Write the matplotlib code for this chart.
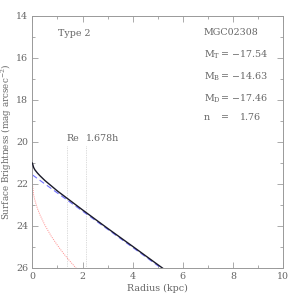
import matplotlib
matplotlib.use("Agg")
from matplotlib import pyplot as plt
from matplotlib.ticker import MultipleLocator

plt.rcParams['font.family'] = 'DejaVu Serif'
plt.rcParams['mathtext.fontset'] = 'dejavuserif'

# profile data
radius = [0.0, 0.05, 0.1, 0.2, 0.3, 0.5, 0.75, 1.0, 1.5, 2.0, 3.0, 4.0, 5.0, 5.3]
total_mu = [21.02, 21.23, 21.34, 21.49, 21.62, 21.85, 22.10, 22.35, 22.80, 23.25, 24.13, 24.99, 25.86, 26.12]

disk_r = [0.0, 2.0, 4.0, 5.3]
disk_mu = [21.58, 23.31, 25.04, 26.17]

bulge_r = [0.0, 0.05, 0.1, 0.2, 0.3, 0.5, 0.75, 1.0, 1.25, 1.5, 1.65, 1.75]
bulge_mu = [22.0, 22.54, 22.79, 23.18, 23.48, 23.98, 24.50, 24.94, 25.34, 25.70, 25.90, 26.04]

re_kpc = 1.36
h_mark = 2.13

galaxy = "MGC02308"
mag_labels = ["M$_{\\mathrm{T}}$", "M$_{\\mathrm{B}}$", "M$_{\\mathrm{D}}$"]
mag_values = ["\u221217.54", "\u221214.63", "\u221217.46"]
sersic_n = "1.76"

grey = '#666666'
fs = 6.8

fig = plt.figure(figsize=(3, 3), dpi=100)
ax = fig.add_axes([0.108, 0.108, 0.836, 0.839])

ax.plot(radius, total_mu, color='#1a1a2a', lw=1.0, zorder=3)
ax.plot(disk_r, disk_mu, color='#7070ff', lw=0.8, ls=(0, (5, 3)), zorder=2)
ax.plot(bulge_r, bulge_mu, color='#ff8a8a', lw=0.7, ls=(0, (1, 1.2)), zorder=2)

for xv in [re_kpc, h_mark]:
    ax.plot([xv, xv], [20.2, 26], color='#bbbbbb', lw=0.5, ls=(0, (1, 1.5)), zorder=1)

ax.text(re_kpc, 19.85, "Re", fontsize=fs, color=grey, ha='left', va='center')
ax.text(h_mark, 19.85, "1.678h", fontsize=fs, color=grey, ha='left', va='center')
ax.text(1.03, 14.86, "Type 2", fontsize=fs, color=grey, ha='left', va='center')

ax.text(6.84, 14.78, galaxy, fontsize=fs, color=grey, ha='left', va='center')
ys = [15.86, 16.91, 17.96]
for lab, val, yv in zip(mag_labels, mag_values, ys):
    ax.text(6.84, yv, lab, fontsize=fs, color=grey, ha='left', va='center')
    ax.text(7.52, yv, "=", fontsize=fs, color=grey, ha='left', va='center')
    ax.text(9.35, yv, val, fontsize=fs, color=grey, ha='right', va='center')
ax.text(6.84, 18.83, "n", fontsize=fs, color=grey, ha='left', va='center')
ax.text(7.52, 18.83, "=", fontsize=fs, color=grey, ha='left', va='center')
ax.text(9.1, 18.83, sersic_n, fontsize=fs, color=grey, ha='right', va='center')

ax.set_xlim(0, 10)
ax.set_ylim(26, 14)
ax.xaxis.set_major_locator(MultipleLocator(2))
ax.xaxis.set_minor_locator(MultipleLocator(1))
ax.yaxis.set_major_locator(MultipleLocator(2))
ax.yaxis.set_minor_locator(MultipleLocator(1))
ax.tick_params(which='both', direction='in', top=True, right=True,
               colors='#888888', labelcolor=grey, labelsize=fs, width=0.5)
ax.tick_params(which='major', length=4, pad=3)
ax.tick_params(which='minor', length=2)
for sp in ax.spines.values():
    sp.set_color('#999999')
    sp.set_linewidth(0.7)

ax.set_xlabel("Radius (kpc)", fontsize=fs, color=grey, labelpad=2)
ax.set_ylabel("Surface Brightness (mag arcsec$^{-2}$)", fontsize=6.3, color=grey, labelpad=1)
ax.yaxis.set_label_coords(-0.072, 0.5)

fig.savefig("out.png", dpi=100)
